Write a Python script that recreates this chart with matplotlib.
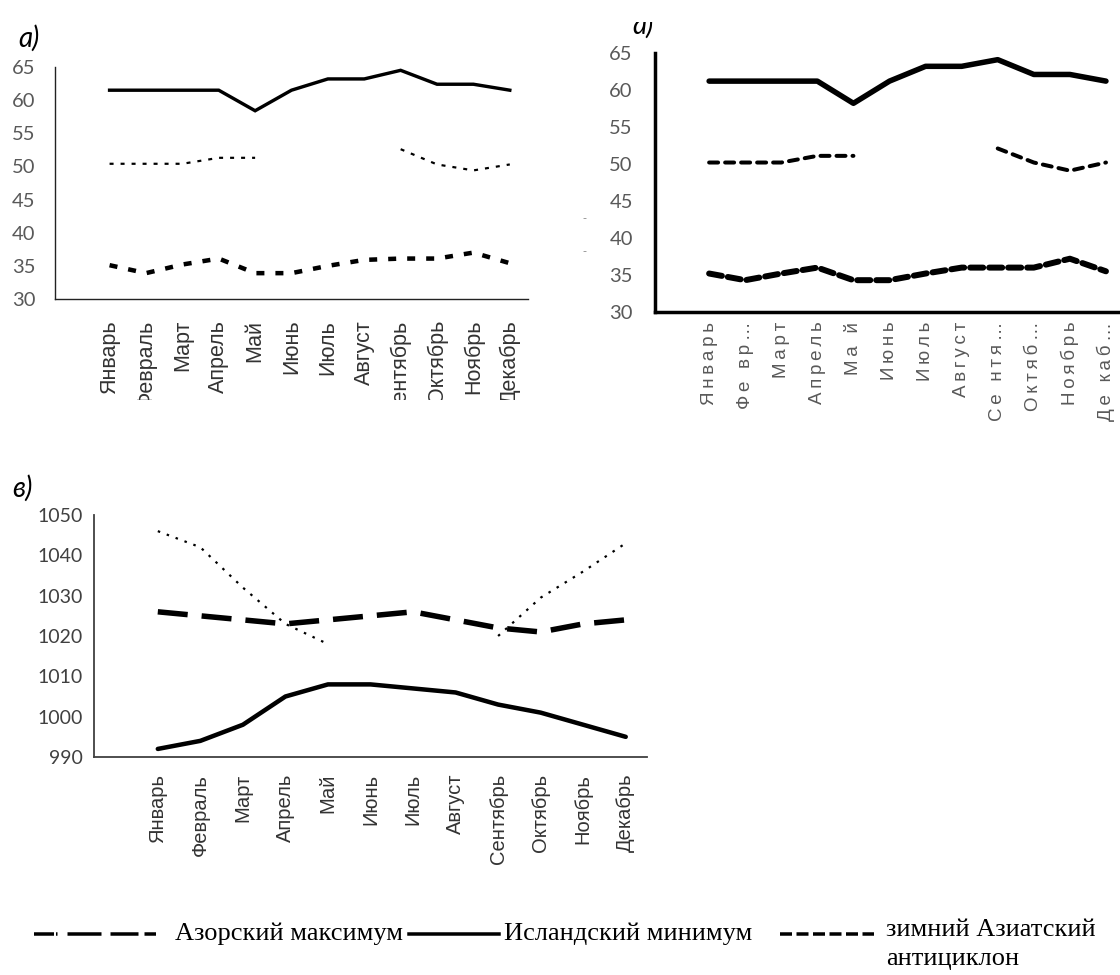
import numpy as np
import matplotlib
matplotlib.use("Agg")
import matplotlib.pyplot as plt
from matplotlib.lines import Line2D
from matplotlib.patches import Rectangle

nan = np.nan

months = ["Январь", "Февраль", "Март", "Апрель", "Май", "Июнь",
          "Июль", "Август", "Сентябрь", "Октябрь", "Ноябрь", "Декабрь"]
months_b = ["Январь", "Фе вр…", "Март", "Апрель", "Ма й", "Июнь",
            "Июль", "Август", "Се нтя…", "Октяб…", "Ноябрь", "Де каб…"]

# panel a (latitude of centres)
iceland_a = [61.5, 61.5, 61.5, 61.5, 58.4, 61.5, 63.2, 63.2, 64.5, 62.4, 62.4, 61.5]
asian_a = [50.4, 50.4, 50.4, 51.3, 51.3, nan, nan, nan, 52.6, 50.3, 49.4, 50.3]
azores_a = [35.1, 33.9, 35.2, 36.1, 33.9, 33.9, 35.0, 35.9, 36.1, 36.1, 37.0, 35.4]

# panel b
iceland_b = [61.2, 61.2, 61.2, 61.2, 58.2, 61.2, 63.2, 63.2, 64.1, 62.1, 62.1, 61.2]
asian_b = [50.2, 50.2, 50.2, 51.1, 51.1, nan, nan, nan, 52.1, 50.2, 49.1, 50.2]
azores_b = [35.2, 34.3, 35.2, 36.0, 34.3, 34.3, 35.2, 36.0, 36.0, 36.0, 37.2, 35.5]

# panel c (pressure, hPa)
iceland_c = [992, 994, 998, 1005, 1008, 1008, 1007, 1006, 1003, 1001, 998, 995]
azores_c = [1026, 1025, 1024, 1023, 1024, 1025, 1026, 1024, 1022, 1021, 1023, 1024]
asian_c = [1046, 1042, 1032, 1023, 1018, nan, nan, nan, 1020, 1029.5, 1036, 1043]

legend_labels = ["Азорский максимум", "Исландский минимум", "зимний Азиатский\nантициклон"]

plt.rcParams['lines.scale_dashes'] = False

W, H = 1120, 975
fig = plt.figure(figsize=(W / 100, H / 100), dpi=100)
x = np.arange(12)


def px_axes(l, t, r, b):
    return fig.add_axes([l / W, 1 - b / H, (r - l) / W, (b - t) / H])


def pt(px):
    return px * 0.72


def style(ax, spine_w, spine_c):
    for s in ["top", "right"]:
        ax.spines[s].set_visible(False)
    for s in ["left", "bottom"]:
        ax.spines[s].set_linewidth(spine_w)
        ax.spines[s].set_color(spine_c)
    ax.set_xlim(-1.5, 11.5)
    ax.set_xticks(x)


def ylabels(ax, size, color, pad):
    for t in ax.get_yticklabels():
        t.set_fontsize(size)
        t.set_color(color)
        t.set_family(["Lato", "DejaVu Sans"])
    ax.tick_params(axis="y", length=0, pad=pad)


# ---------- panel a ----------
ax = px_axes(55, 67, 528, 299)
style(ax, 1.0, "#222222")
ax.plot(x, iceland_a, color="black", lw=pt(3.4), solid_joinstyle="miter")
ax.plot(x, asian_a, color="black", lw=pt(2.2), dashes=(pt(4), pt(7)))
ax.plot(x, azores_a, color="black", lw=pt(4.5), dashes=(pt(8), pt(11)))
ax.set_ylim(30, 65)
ax.set_yticks(range(30, 66, 5))
ax.set_xticklabels(months, rotation=90, fontsize=15.5, color="#333333",
                   family=["Liberation Sans", "DejaVu Sans"])
ylabels(ax, 14.5, "#595959", 14)
ax.tick_params(axis="x", length=0, pad=15)

# ---------- panel b ----------
ax = px_axes(655, 53, 1124, 312)
style(ax, 2.5, "black")
ax.plot(x, iceland_b, color="black", lw=pt(5.5), solid_capstyle="round", solid_joinstyle="round")
ax.plot(x, asian_b, color="black", lw=pt(4), dashes=(pt(9), pt(7)), dash_capstyle="round")
ax.plot(x, azores_b, color="black", lw=pt(6), dashes=(pt(13), pt(6)), dash_capstyle="round")
ax.set_ylim(30, 65)
ax.set_yticks(range(30, 66, 5))
spaced = ["\u2009".join(m) for m in months_b]
ax.set_xticklabels(spaced, rotation=90, fontsize=13.5, color="#595959",
                   family=["Liberation Sans", "DejaVu Sans"])
ylabels(ax, 14.5, "#595959", 16)
ax.tick_params(axis="x", length=0, pad=7)

# ---------- panel c ----------
ax = px_axes(94, 515, 647, 757)
style(ax, 1.3, "#404040")
ax.plot(x, iceland_c, color="black", lw=pt(4.5), solid_capstyle="round")
ax.plot(x, azores_c, color="black", lw=pt(5.5), dashes=(pt(30), pt(14)))
ax.plot(x, asian_c, color="black", lw=pt(2.2), dashes=(pt(2.5), pt(7)))
ax.set_ylim(990, 1050)
ax.set_yticks(range(990, 1051, 10))
ax.set_xticklabels(months, rotation=90, fontsize=14.5, color="#333333",
                   family=["Liberation Sans", "DejaVu Sans"])
ylabels(ax, 14, "#404040", 8)
ax.tick_params(axis="x", length=0, pad=12)

# cover overflow of panel a month labels (cut in the original)
fig.patches.append(Rectangle((0, 1 - 465 / H), 580 / W, (465 - 400) / H,
                             transform=fig.transFigure, facecolor="white",
                             edgecolor="none", zorder=10))

# panel letters
fig.text(18 / W, 1 - 47 / H, "а)", fontsize=20, style="italic",
         family=["Lato", "DejaVu Sans"], va="baseline")
fig.text(632 / W, 1 - 34 / H, "а)", fontsize=20, style="italic",
         family=["Lato", "DejaVu Sans"], va="baseline")
fig.patches.append(Rectangle((600 / W, 1 - 22 / H), 100 / W, 22 / H,
                             transform=fig.transFigure, facecolor="white",
                             edgecolor="none", zorder=11))
fig.text(12 / W, 1 - 497 / H, "в)", fontsize=20, style="italic",
         family=["Lato", "DejaVu Sans"], va="baseline")
fig.text(584 / W, 1 - 218 / H, "-", fontsize=8, color="#888888", ha="center", va="center")
fig.text(584 / W, 1 - 251 / H, "-", fontsize=8, color="#888888", ha="center", va="center")

# ---------- legend ----------
ly = 1 - 934 / H
serif = ["Liberation Serif", "DejaVu Serif"]
fig.add_artist(Line2D([34 / W, 156 / W], [ly, ly], color="black", lw=pt(3.5),
                      dashes=[pt(v) for v in (20, 2, 1.5, 10, 34, 9, 28, 6, 14, 20)]))
fig.text(175 / W, ly, legend_labels[0], fontsize=19, family=serif, va="center")
fig.add_artist(Line2D([409 / W, 499 / W], [ly, ly], color="black", lw=pt(3.5)))
fig.text(504 / W, ly, legend_labels[1], fontsize=19, family=serif, va="center")
fig.add_artist(Line2D([780 / W, 874 / W], [ly, ly], color="black", lw=pt(3.5),
                      dashes=(pt(12), pt(4.5))))
fig.text(886 / W, 1 - 919 / H, legend_labels[2], fontsize=19, family=serif,
         va="top", linespacing=1.4)

fig.savefig("out.png", dpi=100)
